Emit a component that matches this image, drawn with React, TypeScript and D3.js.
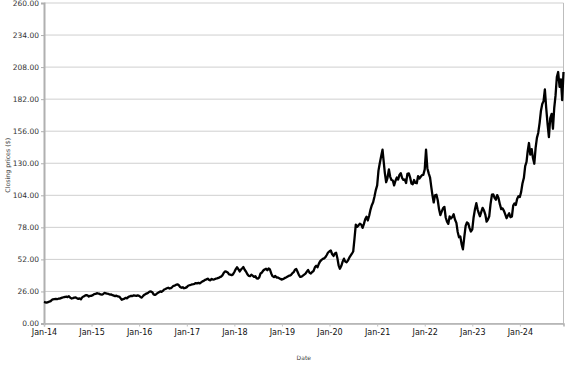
import React, { useEffect, useRef } from 'react';
import * as d3 from 'd3';

// closing prices, three readings per month (1st, 11th, 21st)
const prices2014 = [17.5, 17.2, 16.9, 17.3, 17.8, 18.2, 19.0, 19.6, 19.8, 20.0, 19.7, 20.1, 20.2, 20.6, 21.0, 21.3, 21.5, 21.8, 21.4, 22.1, 21.0, 20.3, 20.6, 21.0, 21.2, 20.5, 20.0, 20.3, 19.6, 21.2, 22.0, 22.6, 23.0, 22.8, 21.9, 22.4];
const prices2015 = [22.5, 23.0, 23.8, 24.0, 24.6, 24.3, 24.2, 23.6, 23.4, 24.0, 24.8, 24.5, 24.2, 24.0, 23.5, 23.6, 23.0, 22.6, 22.2, 22.6, 22.0, 21.8, 20.6, 19.2, 19.8, 20.2, 20.8, 20.4, 21.6, 22.0, 22.5, 22.3, 22.8, 22.6, 22.4, 22.8];
const prices2016 = [22.4, 21.5, 21.0, 22.4, 23.4, 24.0, 24.4, 25.0, 25.8, 26.0, 25.4, 23.6, 23.2, 23.8, 24.6, 25.4, 26.0, 25.6, 26.4, 27.6, 28.0, 28.6, 29.0, 28.4, 28.7, 29.6, 30.6, 30.8, 31.4, 31.8, 31.0, 29.6, 29.0, 29.4, 28.6, 28.9];
const prices2017 = [29.5, 30.6, 31.0, 31.4, 31.8, 32.0, 32.2, 32.8, 32.6, 33.0, 32.6, 33.4, 34.2, 34.6, 35.4, 35.8, 36.4, 35.4, 35.0, 36.2, 35.6, 35.8, 36.4, 36.6, 37.0, 37.6, 38.0, 39.0, 41.0, 42.2, 42.0, 41.4, 39.8, 39.6, 39.2, 39.8];
const prices2018 = [41.8, 44.0, 45.6, 44.0, 42.2, 43.8, 44.6, 45.8, 43.6, 42.0, 40.0, 38.6, 38.4, 39.6, 38.8, 37.8, 38.4, 36.6, 36.4, 37.4, 40.6, 41.4, 43.0, 43.8, 44.4, 43.2, 44.6, 43.8, 40.6, 38.4, 37.6, 38.6, 37.2, 37.4, 36.8, 36.2];
const prices2019 = [35.6, 36.2, 36.8, 37.4, 38.0, 38.6, 38.8, 39.4, 40.6, 41.6, 43.6, 44.2, 42.0, 39.4, 37.8, 38.0, 38.8, 39.6, 40.4, 42.0, 43.4, 41.2, 40.6, 41.8, 42.6, 45.6, 46.8, 45.6, 48.4, 50.4, 51.6, 52.4, 52.8, 53.8, 55.6, 57.6];
const prices2020 = [58.6, 59.2, 56.4, 54.8, 56.8, 57.4, 53.4, 47.2, 44.4, 46.8, 50.2, 52.6, 50.2, 49.6, 51.0, 53.4, 55.0, 56.6, 58.4, 68.8, 80.2, 78.4, 79.6, 81.0, 80.2, 77.6, 80.6, 84.6, 86.6, 83.6, 87.6, 92.4, 96.0, 98.4, 102.8, 108.0];
const prices2021 = [112.0, 124.0, 130.0, 136.0, 141.0, 130.4, 122.0, 114.6, 118.0, 125.0, 119.0, 116.4, 116.0, 112.0, 115.6, 118.4, 116.8, 120.6, 122.0, 118.2, 116.6, 116.8, 114.0, 121.4, 121.8, 118.4, 113.6, 113.0, 116.4, 114.0, 113.8, 119.6, 117.6, 119.0, 120.4, 120.6];
const prices2022 = [125.0, 141.0, 126.0, 121.6, 118.4, 110.2, 104.2, 98.2, 104.0, 104.4, 100.0, 92.6, 88.0, 90.8, 93.4, 94.6, 86.0, 82.6, 80.8, 86.8, 85.2, 86.4, 88.6, 84.4, 81.6, 74.2, 70.0, 70.6, 64.4, 60.2, 70.4, 79.2, 82.0, 81.2, 77.4, 74.6];
const prices2023 = [76.4, 86.0, 92.4, 97.6, 92.4, 89.2, 87.0, 90.6, 93.8, 91.6, 88.4, 82.6, 84.2, 87.0, 96.8, 104.6, 104.8, 102.0, 100.4, 104.2, 101.8, 96.6, 92.8, 93.4, 91.4, 88.6, 85.4, 87.6, 89.4, 86.2, 86.8, 95.6, 97.4, 96.2, 101.0, 103.2];
const prices2024 = [102.6, 106.8, 113.6, 118.2, 127.6, 131.0, 139.6, 146.4, 137.0, 141.4, 134.0, 129.6, 142.4, 150.6, 154.6, 163.0, 172.6, 178.0, 180.4, 190.0, 175.2, 161.6, 151.2, 166.4, 170.0, 158.0, 175.0, 185.0, 200.0, 204.0, 192.0, 198.0, 181.2, 204.0];

const years = [2014, 2015, 2016, 2017, 2018, 2019, 2020, 2021, 2022, 2023, 2024];
const yearPrices = [prices2014, prices2015, prices2016, prices2017, prices2018, prices2019, prices2020, prices2021, prices2022, prices2023, prices2024];
const readingDays = [1, 11, 21];
const yTicks = [0, 26, 52, 78, 104, 130, 156, 182, 208, 234, 260];

const width = 577;
const height = 367;
const margin = { top: 3, right: 13.5, bottom: 43.5, left: 44 };

export default function App() {
  const ref = useRef<SVGGElement>(null);

  useEffect(() => {
    const g = d3.select(ref.current);
    g.selectAll('*').remove();

    const data: { date: Date; close: number }[] = [];
    years.forEach((yr, yi) => {
      yearPrices[yi].forEach((v, i) => {
        data.push({ date: new Date(yr, Math.floor(i / 3), readingDays[i % 3]), close: v });
      });
    });

    const graphWidth = width - margin.left - margin.right;
    const graphHeight = height - margin.top - margin.bottom;

    const x = d3
      .scaleTime()
      .domain(d3.extent(data, d => d.date) as [Date, Date])
      .range([0, graphWidth]);
    const y = d3.scaleLinear().domain([0, 260]).range([graphHeight, 0]);

    const graph = g.attr('transform', `translate(${margin.left}, ${margin.top})`);

    // horizontal grid
    graph
      .selectAll('line.grid')
      .data(yTicks)
      .enter()
      .append('line')
      .attr('class', 'grid')
      .attr('x1', 0)
      .attr('x2', graphWidth)
      .attr('y1', d => y(d))
      .attr('y2', d => y(d))
      .attr('stroke', '#cfcfcf')
      .attr('stroke-width', 1);

    // frame
    graph
      .append('line')
      .attr('x1', graphWidth)
      .attr('x2', graphWidth)
      .attr('y1', 0)
      .attr('y2', graphHeight)
      .attr('stroke', '#bdbdbd');

    // y axis
    const yAxis = d3
      .axisLeft(y)
      .tickValues(yTicks)
      .tickSize(3)
      .tickPadding(2)
      .tickFormat(d => d3.format('.2f')(d as number));
    const yAxisGroup = graph.append('g').call(yAxis);
    yAxisGroup.select('.domain').attr('stroke', '#b0b0b0').attr('stroke-width', 2);
    yAxisGroup.selectAll('line').attr('stroke', '#b0b0b0');
    yAxisGroup
      .selectAll('text')
      .attr('fill', '#333')
      .style('font-family', 'DejaVu Sans')
      .style('font-size', '7.5px');

    // x axis
    const xTicks = d3.range(2014, 2025).map(yr => new Date(yr, 0, 1));
    const xAxis = d3
      .axisBottom(x)
      .tickValues(xTicks)
      .tickSize(3)
      .tickPadding(2.5)
      .tickFormat(d => d3.timeFormat('%b-%y')(d as Date));
    const xAxisGroup = graph
      .append('g')
      .attr('transform', `translate(0, ${graphHeight})`)
      .call(xAxis);
    xAxisGroup.select('.domain').attr('stroke', '#b0b0b0').attr('stroke-width', 1.5);
    xAxisGroup.selectAll('line').attr('stroke', '#c0c0c0');
    xAxisGroup
      .selectAll('text')
      .attr('fill', '#111')
      .style('font-family', 'DejaVu Sans')
      .style('font-size', '8px');

    // price line
    const line = d3
      .line<{ date: Date; close: number }>()
      .x(d => x(d.date))
      .y(d => y(d.close));
    graph
      .append('path')
      .datum(data)
      .attr('d', line)
      .attr('fill', 'none')
      .attr('stroke', '#000')
      .attr('stroke-width', 2.3)
      .attr('stroke-linejoin', 'round');

    // axis titles
    graph
      .append('text')
      .attr('transform', `translate(${-34}, ${graphHeight / 2 + 2}) rotate(-90)`)
      .attr('text-anchor', 'middle')
      .attr('fill', '#444')
      .style('font-family', 'DejaVu Sans')
      .style('font-size', '6.3px')
      .text('Closing prices ($)');
    graph
      .append('text')
      .attr('x', graphWidth / 2)
      .attr('y', graphHeight + 36)
      .attr('text-anchor', 'middle')
      .attr('fill', '#444')
      .style('font-family', 'DejaVu Sans')
      .style('font-size', '6px')
      .text('Date');
  }, []);

  return (
    <svg width={width} height={height} style={{ position: 'absolute', left: 0, top: 0, background: '#fff' }}>
      <g ref={ref} />
    </svg>
  );
}
